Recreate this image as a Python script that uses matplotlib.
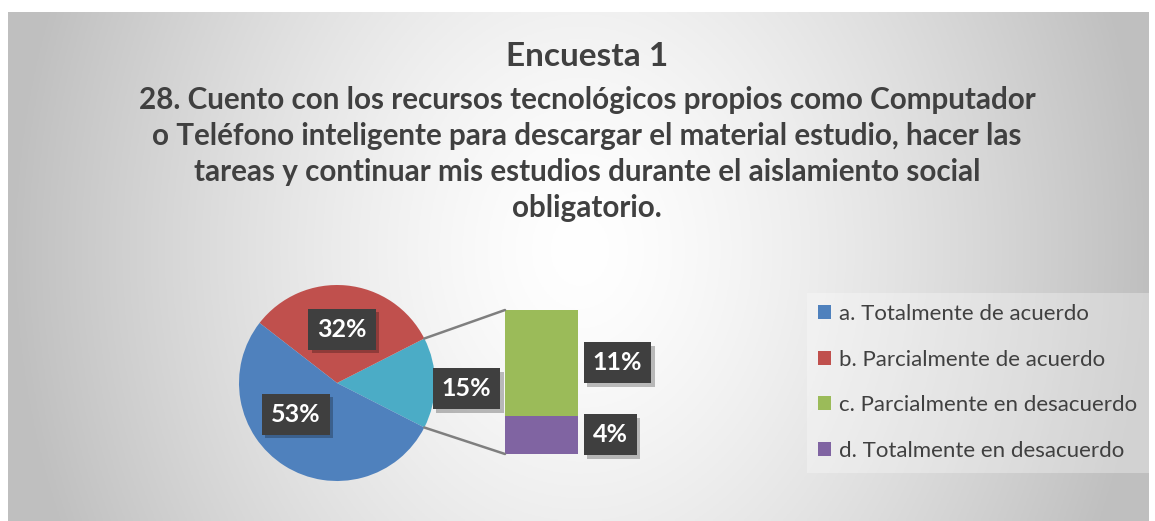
import numpy as np
import matplotlib
matplotlib.use("Agg")
import matplotlib.pyplot as plt
import matplotlib.patheffects as pe
from matplotlib.patches import Patch, Rectangle, ConnectionPatch

plt.rcParams['font.family'] = ['Lato', 'DejaVu Sans']

# data
categories = ['a. Totalmente de acuerdo', 'b. Parcialmente de acuerdo',
              'c. Parcialmente en desacuerdo', 'd. Totalmente en desacuerdo']
values = [53, 32, 11, 4]
colors = ['#4F81BD', '#C0504D', '#9BBB59', '#8064A2']
other_color = '#4BACC6'
title = 'Encuesta 1'
subtitle = ['28. Cuento con los recursos tecnológicos propios como Computador',
            'o Teléfono inteligente para descargar el material estudio, hacer las',
            'tareas y continuar mis estudios durante el aislamiento social',
            'obligatorio.']

a, b, c, d = values
other = c + d

W, H = 1155, 521
fig = plt.figure(figsize=(W / 100, H / 100), dpi=100)
fig.patch.set_facecolor('white')

# background with radial gradient
bg = fig.add_axes([0, 0, 1, 1])
bg.set_xlim(0, W)
bg.set_ylim(H, 0)
bg.axis('off')
xx, yy = np.meshgrid(np.linspace(8, 1149, 400), np.linspace(12, 521, 200))
dist = np.sqrt(((xx - 580) / 570) ** 2 + ((yy - 250) / 700) ** 2)
shade = 1 - 0.25 * np.clip(dist, 0, 1) ** 1.4
bg.imshow(np.dstack([shade] * 3), extent=(8, 1149, 521, 12), aspect='auto', zorder=0)
bg.add_patch(Rectangle((807, 293), 342, 180, facecolor='white', alpha=0.3,
                       edgecolor='none', zorder=1))

# titles
tcol = '#404040'
fig.text(587 / W, 1 - 57 / H, title, ha='center', va='center',
         fontsize=24, weight='bold', color=tcol)
for i, line in enumerate(subtitle):
    fig.text(587 / W, 1 - (100 + 36 * i) / H, line, ha='center', va='center',
             fontsize=21.3, weight='bold', color=tcol)

# pie
cx, cy, r = 337, 383, 98
ax_pie = fig.add_axes([(cx - r) / W, (H - cy - r) / H, 2 * r / W, 2 * r / H])
half = other * 1.8
ax_pie.pie([other, b, a], colors=[other_color, colors[1], colors[0]],
           startangle=-half, counterclock=True, radius=1,
           wedgeprops=dict(linewidth=0))
ax_pie.set_xlim(-1, 1)
ax_pie.set_ylim(-1, 1)
ax_pie.axis('off')

# bar of "other"
ax_bar = fig.add_axes([505 / W, (H - 454) / H, 73 / W, 144 / H])
ax_bar.bar(0, d, width=1, color=colors[3], linewidth=0)
ax_bar.bar(0, c, bottom=d, width=1, color=colors[2], linewidth=0)
ax_bar.set_xlim(-0.5, 0.5)
ax_bar.set_ylim(0, other)
ax_bar.axis('off')

# connector lines
ang = np.radians(half)
for sgn, yb in [(1, other), (-1, 0)]:
    con = ConnectionPatch(xyA=(np.cos(ang), sgn * np.sin(ang)), coordsA=ax_pie.transData,
                          xyB=(-0.5, yb), coordsB=ax_bar.transData,
                          color='#7F7F7F', lw=1.8)
    fig.add_artist(con)


def label(ax, x, y, txt, ha='center'):
    t = ax.text(x, y, txt, ha=ha, va='center', fontsize=18, weight='bold',
                color='white', zorder=5, clip_on=False,
                bbox=dict(boxstyle='square,pad=0.36', facecolor='#3F3F3F',
                          edgecolor='none'))
    t.get_bbox_patch().set_path_effects([
        pe.SimplePatchShadow(offset=(2.5, -2.5), shadow_rgbFace='black', alpha=0.25),
        pe.Normal()])


label(ax_pie, 0.05, 0.55, f'{b}%')
label(ax_pie, -0.42, -0.32, f'{a}%')
label(ax_pie, 1.32, -0.06, f'{other}%')
label(ax_bar, 0.70, d + c / 2, f'{c}%', ha='left')
label(ax_bar, 0.70, d / 2, f'{d}%', ha='left')

# legend
handles = [Patch(facecolor=col, edgecolor='none') for col in colors]
fig.legend(handles, categories, loc='upper left',
           bbox_to_anchor=(818 / W, 1 - 304 / H), frameon=False,
           fontsize=16, labelcolor='#404040', handlelength=0.6, handleheight=0.6,
           handletextpad=0.35, labelspacing=1.15, borderpad=0, borderaxespad=0)

fig.savefig('out.png', dpi=100)
